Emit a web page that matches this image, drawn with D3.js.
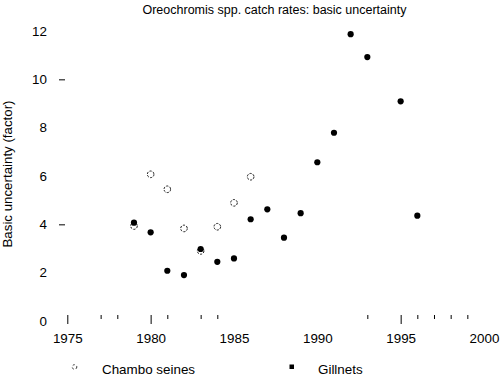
<!DOCTYPE html>
<html><head><meta charset="utf-8">
<script src="https://cdn.jsdelivr.net/npm/d3@7"></script>
<style>body{margin:0;background:#fff}svg{display:block}text{font-family:"Liberation Sans",Arial,sans-serif;fill:#000}</style>
</head><body>
<svg id="c" width="500" height="377"></svg>
<script>
const seineYears = [1979,1980,1981,1982,1983,1984,1985,1986];
const seineValues = [3.93,6.07,5.45,3.83,2.9,3.9,4.89,5.97];
const gillYears = [1979,1980,1981,1982,1983,1984,1985,1986,1987,1988,1989,1990,1991,1992,1993,1995,1996];
const gillValues = [4.07,3.67,2.08,1.9,2.98,2.45,2.59,4.21,4.62,3.45,4.46,6.57,7.79,11.87,10.92,9.09,4.36];
const xLabelTicks = [1975,1980,1985,1990,1995,2000];
const xLongTicks = [1975,1980,1995];
const xShortTicks = [1977,1978,1981,1983,1984,1993,1996,1997,1998,1999];
const yLabelTicks = [0,2,4,6,8,10,12];
const yMarkTicks = [4,10];

const svg = d3.select("#c");
const x = d3.scaleLinear().domain([1975,2000]).range([67.3,484]);
const y = d3.scaleLinear().domain([0,12]).range([321,31]);

svg.append("text").attr("x",274.5).attr("y",13.5).attr("text-anchor","middle")
  .style("font-size","12.5px").text("Oreochromis spp. catch rates: basic uncertainty");

// x ticks
const gL = svg.append("g").attr("transform","translate(0,315)")
  .call(d3.axisBottom(x).tickValues(xLongTicks).tickSize(9).tickFormat(""));
const gS = svg.append("g").attr("transform","translate(0,315)")
  .call(d3.axisBottom(x).tickValues(xShortTicks).tickSize(4).tickFormat(""));
const gLab = svg.append("g").attr("transform","translate(0,330)")
  .call(d3.axisBottom(x).tickValues(xLabelTicks).tickSize(0).tickFormat(d3.format("d")));
[gL,gS,gLab].forEach(g=>{g.select(".domain").remove();g.selectAll("line").attr("stroke","#000");
  g.selectAll("text").style("font-size","13.4px").attr("font-family",null).attr("fill","#000");});

// y ticks
const gy = svg.append("g").attr("transform","translate(65,0)")
  .call(d3.axisLeft(y).tickValues(yMarkTicks).tickSize(6).tickFormat(""));
gy.select(".domain").remove(); gy.selectAll("line").attr("stroke","#000");
const gyl = svg.append("g").attr("transform","translate(47,0)")
  .call(d3.axisLeft(y).tickValues(yLabelTicks).tickSize(0).tickPadding(0).tickFormat(d3.format("d")));
gyl.select(".domain").remove();
gyl.selectAll("text").style("font-size","13.4px").attr("font-family",null).attr("fill","#000");

svg.append("text").attr("transform","translate(12,174) rotate(-90)").attr("text-anchor","middle")
  .style("font-size","13.3px").text("Basic uncertainty (factor)");

// points
svg.append("g").selectAll("circle").data(gillYears).join("circle")
  .attr("cx",(d)=>x(d)).attr("cy",(d,i)=>y(gillValues[i])).attr("r",3.1).attr("fill","#000");
svg.append("g").selectAll("circle").data(seineYears).join("circle")
  .attr("cx",(d)=>x(d)).attr("cy",(d,i)=>y(seineValues[i])).attr("r",3.3)
  .attr("fill","none").attr("stroke","#000").attr("stroke-width",0.9).attr("stroke-dasharray","2.2,1.3");

// legend
svg.append("circle").attr("cx",74.5).attr("cy",367).attr("r",2.3).attr("fill","none")
  .attr("stroke","#000").attr("stroke-width",0.8).attr("stroke-dasharray","2,2");
svg.append("text").attr("x",102).attr("y",374).style("font-size","13.4px").text("Chambo seines");
svg.append("rect").attr("x",289.5).attr("y",364.5).attr("width",4.5).attr("height",4.5).attr("fill","#000");
svg.append("text").attr("x",318).attr("y",374).style("font-size","13.4px").text("Gillnets");
</script>
</body></html>
